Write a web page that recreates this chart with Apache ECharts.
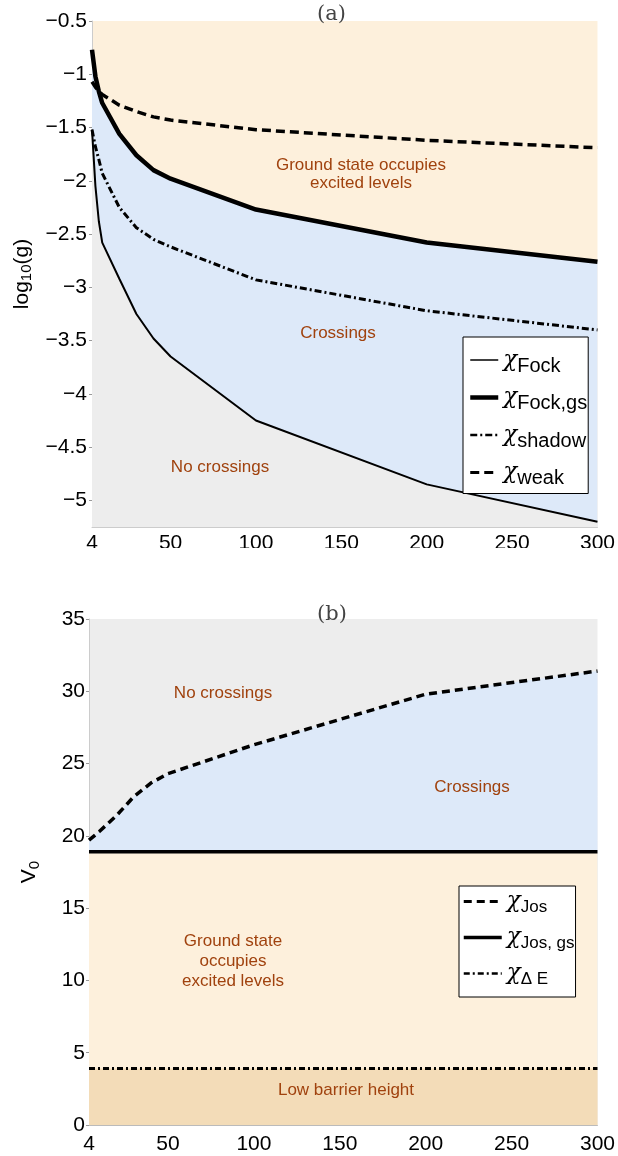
<!DOCTYPE html>
<html>
<head>
<meta charset="utf-8">
<script src="https://cdn.jsdelivr.net/npm/echarts@6/dist/echarts.min.js"></script>
<style>
  html, body { margin: 0; padding: 0; background: #fff; }
  #wrapA { position: absolute; left: 0; top: 0; width: 618px; height: 548px; overflow: hidden; }
  #chartA { width: 618px; height: 580px; }
  #chartB { position: absolute; left: 0; top: 548px; width: 618px; height: 608px; }
</style>
</head>
<body>
<div id="wrapA"><div id="chartA"></div></div>
<div id="chartB"></div>
<script>
// panel (a): log10(g) vs N
const xTop = [4, 6, 8, 10, 20, 30, 40, 50, 100, 200, 300];
const fock = [-1.52, -2.05, -2.38, -2.58, -2.92, -3.25, -3.48, -3.65, -4.25, -4.85, -5.2];
const fockGs = [-0.77, -1.02, -1.16, -1.27, -1.56, -1.76, -1.9, -1.98, -2.27, -2.58, -2.76];
const shadow = [-1.52, -1.68, -1.8, -1.93, -2.25, -2.44, -2.55, -2.62, -2.93, -3.22, -3.4];
const weak = [-1.07, -1.12, -1.16, -1.19, -1.29, -1.35, -1.4, -1.43, -1.52, -1.62, -1.69];
const yTicksTop = [-5, -4.5, -4, -3.5, -3, -2.5, -2, -1.5, -1, -0.5];

// panel (b): V0 vs N
const xBottom = [4, 10, 20, 30, 40, 50, 100, 200, 300];
const jos = [19.7, 20.3, 21.4, 22.7, 23.65, 24.3, 26.3, 29.8, 31.4];
const josGs = [18.9, 18.9, 18.9, 18.9, 18.9, 18.9, 18.9, 18.9, 18.9];
const deltaE = [3.9, 3.9, 3.9, 3.9, 3.9, 3.9, 3.9, 3.9, 3.9];

const xTicks = [4, 50, 100, 150, 200, 250, 300];

const CREAM = '#fdf0dc';
const BLUE = '#dde9f9';
const GRAY = '#ededed';
const TAN = '#f3dcb8';
const TXT = '#a0420e';
const FONT = 'Liberation Sans, Arial, sans-serif';

function pairs(xs, ys) {
    return xs.map((x, i) => [x, ys[i]]);
}

function minus(v) {
    return String(v).replace('-', '\u2212');
}

function lineSeries(name, xs, ys, width, type, area) {
    const s = {
        name: name,
        type: 'line',
        data: pairs(xs, ys),
        symbol: 'none',
        smooth: false,
        silent: true,
        lineStyle: { color: '#000', width: width, type: type },
        itemStyle: { color: '#000' }
    };
    if (area) {
        s.areaStyle = { color: area, opacity: 1, origin: 'start' };
    }
    return s;
}

// legend entry carrying its own sample line width
function entry(name, width) {
    return { name: name, lineStyle: { width: width } };
}

function legendOpt(left, top, iconW, subSize, padding, gap) {
    return {
        orient: 'vertical',
        left: left,
        top: top,
        padding: padding,
        itemGap: gap,
        itemWidth: iconW,
        itemHeight: 14,
        backgroundColor: '#fff',
        borderColor: '#000',
        borderWidth: 1,
        itemStyle: { opacity: 0 },
        formatter: n => '{c|\u03c7}{s|' + n + '}',
        textStyle: {
            rich: {
                c: { fontFamily: 'DejaVu Serif', fontStyle: 'italic', fontSize: 23, lineHeight: 32, color: '#000' },
                s: { fontFamily: FONT, fontSize: subSize, lineHeight: 20, padding: [12, 0, 0, 0], color: '#000' }
            }
        }
    };
}

function regionText(x, y, text, lh) {
    return {
        type: 'text',
        x: x,
        y: y,
        silent: true,
        z: 5,
        style: {
            text: text,
            fill: TXT,
            font: '17px ' + FONT,
            align: 'center',
            verticalAlign: 'middle',
            lineHeight: lh
        }
    };
}

const axisLabelStyle = { color: '#000', fontSize: 21, fontFamily: FONT };

// ---------- panel (a) ----------
const chartA = echarts.init(document.getElementById('chartA'));
chartA.setOption({
    animation: false,
    title: {
        text: '(a)', left: 317, top: 4, padding: 0,
        textStyle: { fontFamily: 'DejaVu Serif', fontWeight: 'normal', fontSize: 21, color: '#444' }
    },
    grid: { left: 92, top: 21, width: 506, height: 506, show: true, backgroundColor: CREAM, borderWidth: 0 },
    xAxis: {
        type: 'value', min: 4, max: 300,
        axisLine: { show: true, lineStyle: { color: '#ccc' } },
        axisTick: { show: false },
        splitLine: { show: false },
        axisLabel: { ...axisLabelStyle, margin: 6, customValues: xTicks }
    },
    yAxis: {
        type: 'value', min: -5.25, max: -0.5,
        name: 'log{s|10}(g)',
        nameLocation: 'middle',
        nameGap: 52,
        nameTextStyle: {
            color: '#000', fontSize: 21, fontFamily: FONT,
            rich: { s: { fontSize: 15, fontFamily: FONT, padding: [10, 0, 0, 0] } }
        },
        axisLine: { show: true, lineStyle: { color: '#ccc' } },
        axisTick: { show: true, length: 3, lineStyle: { color: '#999' }, customValues: yTicksTop },
        splitLine: { show: false },
        axisLabel: { ...axisLabelStyle, margin: 5, customValues: yTicksTop, formatter: v => minus(v) }
    },
    legend: Object.assign(legendOpt(463, 337, 28, 20, [7, 1, 5, 5], 5.5), {
        data: [entry('Fock', 1.5), entry('Fock,gs', 4.5), entry('shadow', 2.5), entry('weak', 3)]
    }),
    series: [
        lineSeries('Fock,gs', xTop, fockGs, 4.5, 'solid', BLUE),
        lineSeries('Fock', xTop, fock, 2, 'solid', GRAY),
        lineSeries('shadow', xTop, shadow, 3, [7, 3, 2, 3]),
        lineSeries('weak', xTop, weak, 3.5, [9, 5])
    ],
    graphic: [
        regionText(361, 174, 'Ground state occupies\nexcited levels', 18),
        regionText(338, 333, 'Crossings', 18),
        regionText(220, 467, 'No crossings', 18)
    ]
});

// ---------- panel (b) ----------
const chartB = echarts.init(document.getElementById('chartB'));
chartB.setOption({
    animation: false,
    title: {
        text: '(b)', left: 317, top: 56, padding: 0,
        textStyle: { fontFamily: 'DejaVu Serif', fontWeight: 'normal', fontSize: 21, color: '#444' }
    },
    grid: { left: 89, top: 71, width: 509, height: 506, show: true, backgroundColor: GRAY, borderWidth: 0 },
    xAxis: {
        type: 'value', min: 4, max: 300,
        axisLine: { show: true, lineStyle: { color: '#bbb' } },
        axisTick: { show: false },
        splitLine: { show: false },
        axisLabel: { ...axisLabelStyle, margin: 9, customValues: xTicks }
    },
    yAxis: {
        type: 'value', min: 0, max: 35, interval: 5,
        name: 'V{s|0}',
        nameLocation: 'middle',
        nameGap: 47,
        nameTextStyle: {
            color: '#000', fontSize: 21, fontFamily: FONT,
            rich: { s: { fontSize: 15, fontFamily: FONT, padding: [10, 0, 0, 0] } }
        },
        axisLine: { show: true, lineStyle: { color: '#ccc' } },
        axisTick: { show: true, length: 3, lineStyle: { color: '#999' } },
        splitLine: { show: false },
        axisLabel: { ...axisLabelStyle, margin: 4 }
    },
    legend: Object.assign(legendOpt(459, 338, 38, 17, [1, 1, 9, 3], 7), {
        data: [entry('Jos', 3), entry('Jos, gs', 3.5), entry('\u0394 E', 2.5)]
    }),
    series: [
        lineSeries('Jos', xBottom, jos, 3.5, [8, 5], BLUE),
        lineSeries('Jos, gs', xBottom, josGs, 3.5, 'solid', CREAM),
        lineSeries('\u0394 E', xBottom, deltaE, 3, [6, 3, 2, 3], TAN)
    ],
    graphic: [
        regionText(223, 145, 'No crossings', 20),
        regionText(472, 239, 'Crossings', 20),
        regionText(233, 413, 'Ground state\noccupies\nexcited levels', 20),
        regionText(346, 542, 'Low barrier height', 20)
    ]
});
</script>
</body>
</html>
